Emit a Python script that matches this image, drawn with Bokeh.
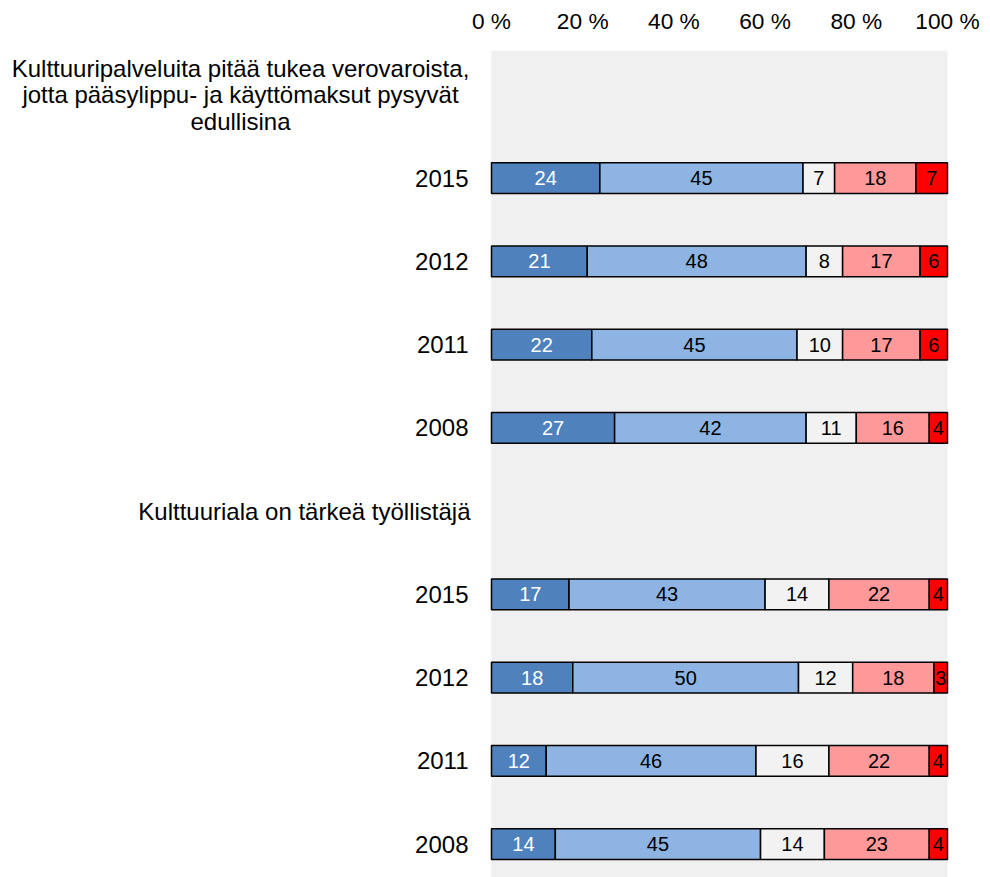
from bokeh.plotting import figure
from bokeh.models import Range1d, FixedTicker, ColumnDataSource, BoxAnnotation
from bokeh.core.properties import value
from bokeh.embed import file_html
from bokeh.resources import INLINE

# ---- data ----
questions = [
    "Kulttuuripalveluita pitää tukea verovaroista,\njotta pääsylippu- ja käyttömaksut pysyvät\nedullisina",
    "Kulttuuriala on tärkeä työllistäjä",
]
years = ["2015", "2012", "2011", "2008"]
# one value per year row (question 1: 2015,2012,2011,2008; question 2: same)
s1 = [24, 21, 22, 27, 17, 18, 12, 14]
s2 = [45, 48, 45, 42, 43, 50, 46, 45]
s3 = [7, 8, 10, 11, 14, 12, 16, 14]
s4 = [18, 17, 17, 16, 22, 18, 22, 23]
s5 = [7, 6, 6, 4, 4, 3, 4, 4]
x_ticks = [0, 20, 40, 60, 80, 100]
x_tick_labels = ["0 %", "20 %", "40 %", "60 %", "80 %", "100 %"]

colors = ["#4F81BD", "#8EB4E3", "#F2F2F2", "#FF9999", "#FF0000"]
text_colors = ["white", "black", "black", "black", "black"]
FONT = "Liberation Sans"

series = [s1, s2, s3, s4, s5]

# row positions: question header, then its four years
row_y = []
year_txt = []
q_y = []
for q in range(len(questions)):
    base = q * (len(years) + 1)
    q_y.append(base)
    for i, yr in enumerate(years):
        row_y.append(base + 1 + i)
        year_txt.append(yr)

bar = dict(y=[], left=[], right=[], color=[], mid=[], txt=[], tcol=[])
for r, y in enumerate(row_y):
    vals = [s[r] for s in series]
    tot = sum(vals)
    acc = 0.0
    for k, v in enumerate(vals):
        l = acc / tot * 100
        acc += v
        rr = acc / tot * 100
        bar["y"].append(y)
        bar["left"].append(l)
        bar["right"].append(rr)
        bar["color"].append(colors[k])
        bar["mid"].append((l + rr) / 2)
        bar["txt"].append(str(v))
        bar["tcol"].append(text_colors[k])
src = ColumnDataSource(bar)

W, H = 982, 877
PX = 4.56  # pixels per percent
p = figure(width=W, height=H, output_backend="svg", toolbar_location=None,
           x_range=Range1d(-491 / PX, 100 + (W - 947) / PX), y_range=Range1d(9.40, -0.533),
           x_axis_location="above", y_axis_location=None,
           min_border_left=0, min_border_right=0, min_border_top=50, min_border_bottom=0)
p.background_fill_color = "white"
p.border_fill_color = "white"
p.outline_line_color = None
p.grid.visible = False

p.add_layout(BoxAnnotation(left=0, right=100, fill_color="#F0F0F0", fill_alpha=1,
                           line_color=None, level="underlay"))

p.hbar(y="y", left="left", right="right", height=0.37, fill_color="color",
       line_color="black", line_width=1.5, source=src)
p.text(x="mid", y="y", text="txt", text_color="tcol", text_align="center",
       text_baseline="middle", text_font=value(FONT), text_font_size="20px", source=src)

# row labels (years)
p.text(x=[-23 / PX] * len(row_y), y=row_y, text=year_txt, text_align="right",
       text_baseline="middle", text_font=value(FONT), text_font_size="24px", text_color="black")
# question headers
p.text(x=[-251 / PX], y=[q_y[0]], text=[questions[0]], text_align="center",
       text_baseline="middle", text_font=value(FONT), text_font_size="24px",
       text_color="black", text_line_height=0.98)
p.text(x=[-21 / PX], y=[q_y[1]], text=[questions[1]], text_align="right",
       text_baseline="middle", text_font=value(FONT), text_font_size="24px", text_color="black")

xa = p.xaxis[0]
xa.ticker = FixedTicker(ticks=x_ticks)
xa.major_label_overrides = {t: l for t, l in zip(x_ticks, x_tick_labels)}
xa.axis_line_color = None
xa.major_tick_line_color = None
xa.minor_tick_line_color = None
xa.major_tick_out = 0
xa.major_tick_in = 0
xa.major_label_text_font = FONT
xa.major_label_text_font_size = "22.7px"
xa.major_label_text_color = "black"
xa.major_label_standoff = 17

open("out.html", "w").write(file_html(p, INLINE))
